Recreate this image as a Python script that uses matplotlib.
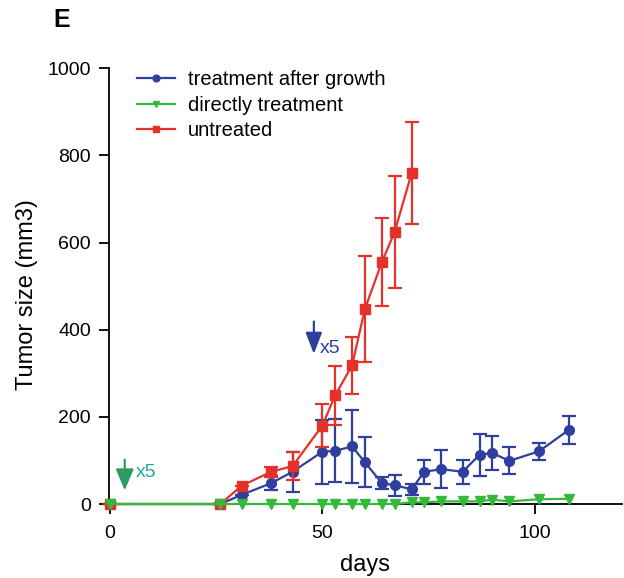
# -*- coding: utf-8 -*-
import matplotlib
matplotlib.use("Agg")
import matplotlib.pyplot as plt

plt.rcParams['font.family'] = ['Liberation Sans', 'DejaVu Sans']

# data
days = [0, 26, 31, 38, 43, 50, 53, 57, 60, 64, 67, 71, 74, 78, 83, 87, 90, 94, 101, 108]
after_growth = [0, 0, 21, 48, 74, 120, 122, 132, 96, 48, 43, 34, 74, 80, 74, 113, 117, 99, 121, 170]
after_growth_err = [0, 0, 0, 16, 46, 73, 72, 84, 57, 14, 24, 13, 27, 44, 28, 48, 39, 31, 20, 32]
direct = [0, 0, 0, 0, 0, 0, 0, 0, 0, 0, 0, 4, 4, 6, 6, 6, 10, 6, 11, 12]

days_untreated = [0, 26, 31, 38, 43, 50, 53, 57, 60, 64, 67, 71]
untreated = [0, 0, 42, 74, 87, 180, 249, 318, 447, 555, 624, 759]
untreated_err = [0, 0, 0, 12, 33, 49, 68, 66, 122, 101, 129, 117]

blue = '#2e3f9e'
red = '#e4322b'
green = '#35b93b'

fig = plt.figure(figsize=(6.24, 5.78), dpi=100)
ax = fig.add_axes([0.1747, 0.128, 0.822, 0.754])

eb1 = ax.errorbar(days, after_growth, yerr=after_growth_err, color=blue, marker='o',
                  markersize=7, lw=1.6, elinewidth=1.6, capsize=5, capthick=1.6,
                  zorder=3, clip_on=False)
ln2, = ax.plot(days, direct, color=green, marker='v', markersize=7, lw=1.6,
               zorder=5, clip_on=False)
eb3 = ax.errorbar(days_untreated, untreated, yerr=untreated_err, color=red, marker='s',
                  markersize=6.5, lw=1.6, elinewidth=1.6, capsize=5, capthick=1.6,
                  zorder=4, clip_on=False)

# dosing arrows
ax.annotate('', xy=(3.5, 25), xytext=(3.5, 108),
            arrowprops=dict(arrowstyle='-|>,head_width=0.55,head_length=1.3',
                            color='#2e9a62', lw=1.6))
ax.text(6.2, 73, 'x5', color='#1fa5a5', fontsize=14, va='center')
ax.annotate('', xy=(48, 338), xytext=(48, 425),
            arrowprops=dict(arrowstyle='-|>,head_width=0.5,head_length=1.3',
                            color=blue, lw=1.6))
ax.text(49.5, 357, 'x5', color=blue, fontsize=14, va='center')

ax.set_xlim(-0.2, 120.5)
ax.set_ylim(0, 1000)
ax.set_xticks([0, 50, 100])
ax.set_yticks([0, 200, 400, 600, 800, 1000])
ax.spines['top'].set_visible(False)
ax.spines['right'].set_visible(False)
ax.spines['left'].set_linewidth(1.3)
ax.spines['bottom'].set_linewidth(1.3)
ax.tick_params(direction='out', length=7, width=1.3, labelsize=14)
ax.tick_params(axis='x', pad=8)
ax.tick_params(axis='y', pad=6)

ax.set_xlabel('days', fontsize=17, labelpad=9)
ax.set_ylabel('Tumor size (mm3)', fontsize=17)
ax.yaxis.set_label_coords(-0.138, 0.48)

ax.legend(handles=[eb1[0], ln2, eb3[0]],
          labels=['treatment after growth', 'directly treatment', 'untreated'],
          loc='upper left', bbox_to_anchor=(0.055, 0.995), frameon=False,
          fontsize=14.5, handlelength=1.9, handletextpad=0.6,
          labelspacing=0.32, borderpad=0, borderaxespad=0, numpoints=1,
          markerscale=0.7)

fig.text(0.085, 0.965, 'E', fontsize=18, fontweight='bold', va='center')

fig.savefig('out.png', dpi=100)
